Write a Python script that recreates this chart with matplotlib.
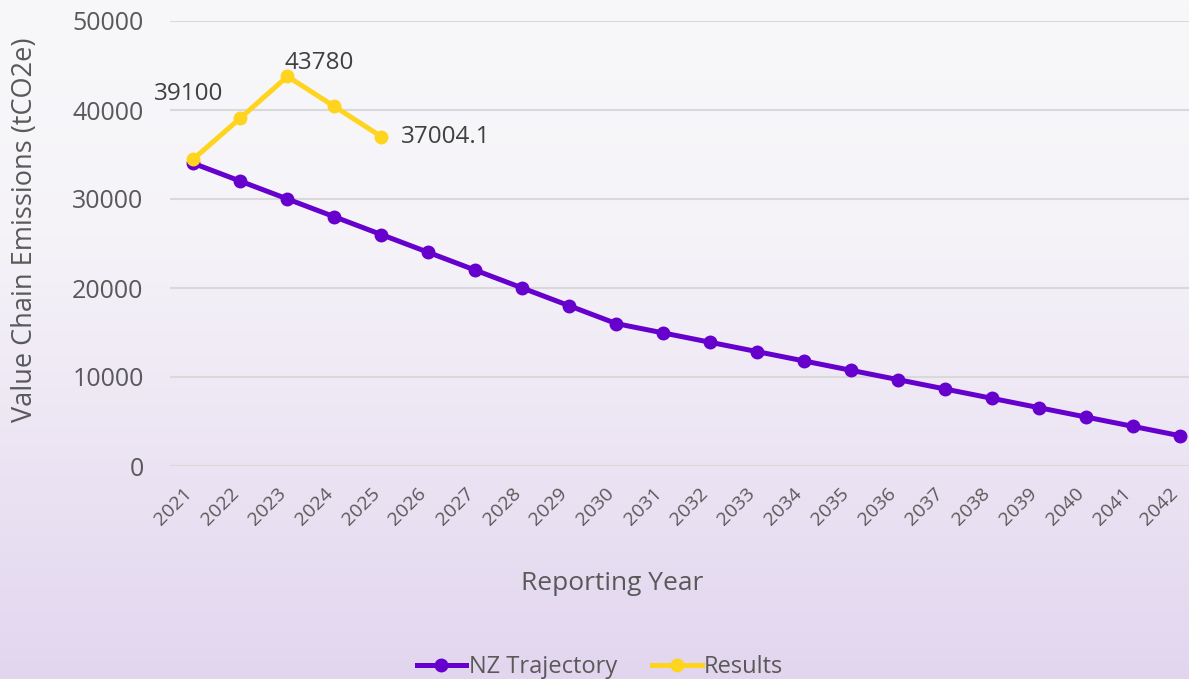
import numpy as np
import matplotlib
matplotlib.use("Agg")
import matplotlib.pyplot as plt
from matplotlib.colors import LinearSegmentedColormap
from matplotlib.transforms import ScaledTranslation

years = [str(y) for y in range(2021, 2043)]
nz_trajectory = [34000, 32000, 30000, 28000, 26000, 24000, 22000, 20000, 18000, 16000,
                 14950, 13900, 12850, 11800, 10750, 9700, 8650, 7600, 6550, 5500, 4450, 3400]
results = [34500, 39100, 43780, 40400, 37004.1]
labelled_idx = [1, 2, 4]
y_ticks = [0, 10000, 20000, 30000, 40000, 50000]

plt.rcParams['font.family'] = ['Open Sans', 'DejaVu Sans']
W, H = 1189, 679
fig = plt.figure(figsize=(W / 100, H / 100), dpi=100)

# background gradient
bg = fig.add_axes([0, 0, 1, 1], zorder=-10)
t = np.linspace(0, 1, 256).reshape(-1, 1)
cmap = LinearSegmentedColormap.from_list('bg', [(0, '#f8f8fa'), (0.35, '#f5f3f8'), (0.7, '#ebe3f3'), (1, '#e2d6ef')])
bg.imshow(t, aspect='auto', cmap=cmap, extent=[0, 1, 0, 1], origin='upper')
bg.set_axis_off()

left = 170 / W
band = (1180 - 192) / 21
width = (1180 + band / 2 - 170) / W
bottom = 1 - 466 / H
height = (466 - 21) / H
ax = fig.add_axes([left, bottom, width, height])
ax.patch.set_alpha(0)

x = np.arange(len(years))
purple = '#6600cc'
yellow = '#ffd41f'
ax.plot(x, nz_trajectory, color=purple, lw=3.6, marker='o', ms=9, label='NZ Trajectory', zorder=3)
ax.plot(x[:len(results)], results, color=yellow, lw=3.6, marker='o', ms=9, label='Results', zorder=4)

offsets = {1: (-12, 9, 'right', 'bottom'), 2: (-2, 1, 'left', 'bottom'), 4: (14, 0, 'left', 'center')}
for i in labelled_idx:
    dx, dy, ha, va = offsets[i]
    v = results[i]
    txt = f"{v:g}" if v != int(v) else f"{int(v)}"
    ax.annotate(txt, (x[i], v), xytext=(dx, dy), textcoords='offset points',
                ha=ha, va=va, fontsize=17.5, color='#404040')

ax.set_xlim(-0.5, len(years) - 0.5)
ax.set_ylim(0, 50000)
ax.set_yticks(y_ticks)
ax.set_yticklabels([str(v) for v in y_ticks])
ax.set_xticks(x)
ax.set_xticklabels(years, rotation=45, ha='right', rotation_mode='anchor')
ax.tick_params(axis='both', length=0, colors='#595959')
ax.tick_params(axis='y', labelsize=18, pad=19)
ax.tick_params(axis='x', labelsize=14, pad=13)
shift = ScaledTranslation(-11 / 100, 0, fig.dpi_scale_trans)
for lab in ax.get_xticklabels():
    lab.set_transform(lab.get_transform() + shift)
ax.grid(axis='y', color='#d9d9d9', lw=1.5)
ax.set_axisbelow(True)
for s in ax.spines.values():
    s.set_visible(False)

fig.text(25 / W, 1 - 230 / H, 'Value Chain Emissions (tCO2e)', rotation=90, ha='center', va='center',
         fontsize=19.5, color='#595959')
fig.text(612 / W, 1 - 583 / H, 'Reporting Year', ha='center', va='center', fontsize=19, color='#595959')

leg = fig.legend(loc='center', bbox_to_anchor=(600 / W, 1 - 667 / H), ncol=2, frameon=False,
                 fontsize=17, labelcolor='#595959', handlelength=2.1, handletextpad=0.1, columnspacing=1.5)

fig.savefig('out.png', dpi=100)
